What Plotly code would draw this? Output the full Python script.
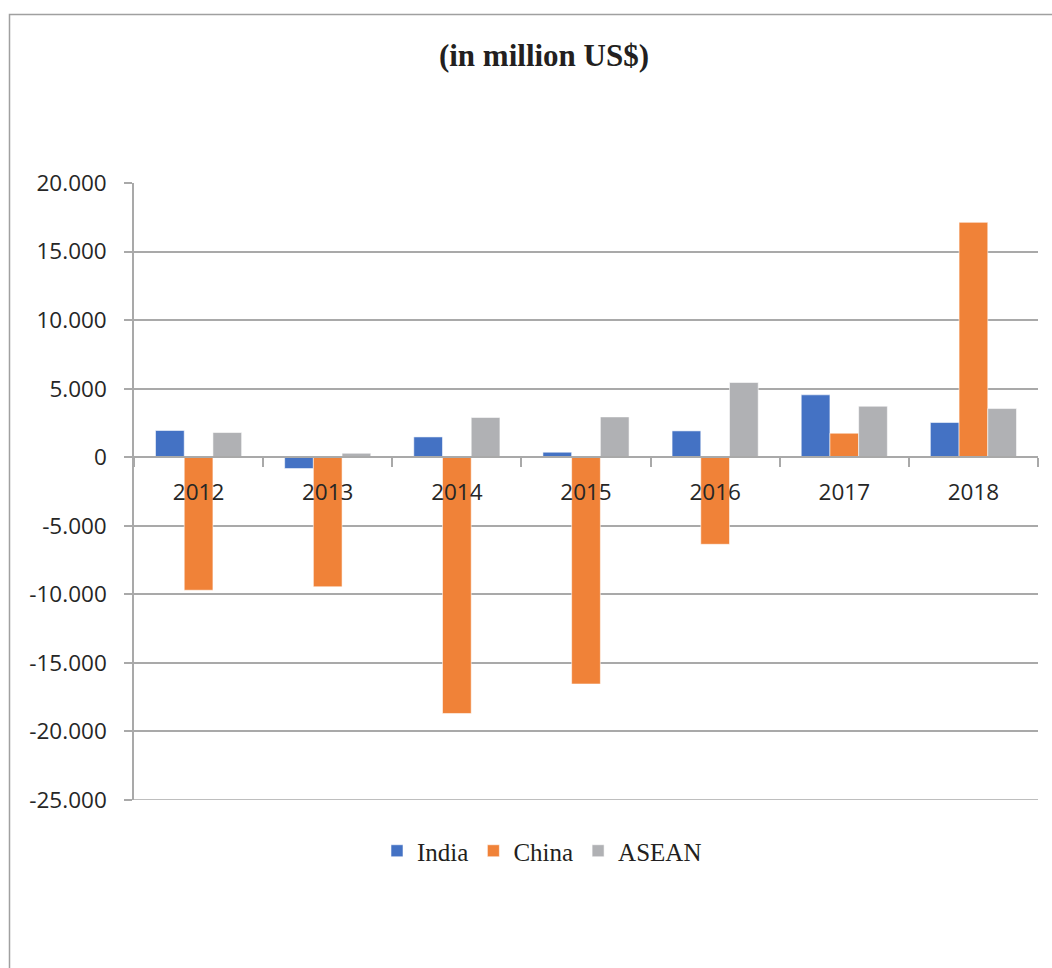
import plotly.graph_objects as go

years = ["2012", "2013", "2014", "2015", "2016", "2017", "2018"]
india = [1950, -825, 1480, 365, 1920, 4550, 2530]
china = [-9700, -9450, -18690, -16540, -6350, 1750, 17130]
asean = [1800, 290, 2900, 2940, 5450, 3720, 3550]

y_tick_values = [20000, 15000, 10000, 5000, 0, -5000, -10000, -15000, -20000, -25000]
y_tick_labels = ["20.000", "15.000", "10.000", "5.000", "0", "-5.000", "-10.000",
                 "-15.000", "-20.000", "-25.000"]

series = [("India", india, "#4472C4"), ("China", china, "#F08238"), ("ASEAN", asean, "#B0B1B4")]

W, H = 1052, 968
ML, MR, MT, MB = 134, 14, 183, 168
PH = H - MT - MB
PW = W - ML - MR
y_min, y_max = -25000, 20000

fig = go.Figure()
for name, vals, col in series:
    fig.add_trace(go.Bar(
        x=years, y=vals, name=name,
        marker=dict(color=col, line=dict(color="rgba(255,255,255,0.55)", width=1)),
    ))

grid = "#a9a9a9"
zero_pos = (0 - y_min) / (y_max - y_min)

fig.update_layout(
    width=W, height=H,
    margin=dict(l=ML, r=MR, t=MT, b=MB, autoexpand=False),
    paper_bgcolor="white", plot_bgcolor="white",
    barmode="group", bargap=0.333, bargroupgap=0,
    title=dict(text="<b>(in million US$)</b>", xref="container", x=544 / W,
               yref="container", y=1 - 55 / H, xanchor="center", yanchor="middle",
               font=dict(family="Liberation Serif", size=31, color="#231f20")),
    xaxis=dict(
        type="category", anchor="free", position=zero_pos,
        showline=True, linecolor=grid, linewidth=1.5,
        ticks="outside", tickson="boundaries", ticklen=9, tickcolor=grid, tickwidth=1.5,
        ticklabelstandoff=15,
        tickfont=dict(family="Open Sans", size=22.5, color="#262626"),
        showgrid=False,
    ),
    yaxis=dict(
        range=[y_min, y_max], tickvals=y_tick_values, ticktext=y_tick_labels,
        showgrid=True, gridcolor=grid, gridwidth=1.5,
        zeroline=False,
        showline=True, linecolor=grid, linewidth=1.5,
        ticks="outside", ticklen=8, tickcolor=grid, tickwidth=1.5,
        ticklabelstandoff=13,
        tickfont=dict(family="Open Sans", size=22.5, color="#262626"),
    ),
    legend=dict(orientation="h", x=(542 - ML) / PW, xanchor="center",
                y=(H - MB - 851) / PH, yanchor="middle",
                bgcolor="rgba(0,0,0,0)",
                font=dict(family="Liberation Serif", size=25, color="#231f20"),
                traceorder="normal", itemwidth=30),
    shapes=[
        dict(type="rect", xref="paper", yref="paper",
             x0=(9.5 - ML) / PW, x1=1.2,
             y0=-0.5, y1=(H - MB - 14.5) / PH,
             line=dict(color="#a0a0a0", width=1.5), fillcolor="rgba(0,0,0,0)", layer="below"),
        dict(type="line", xref="paper", yref="y", x0=0, x1=1, y0=y_min, y1=y_min,
             line=dict(color=grid, width=1.5), layer="below"),
    ],
)

fig.write_html("out.html", config={"displayModeBar": False},
               post_script="document.body.style.margin='0px';")
